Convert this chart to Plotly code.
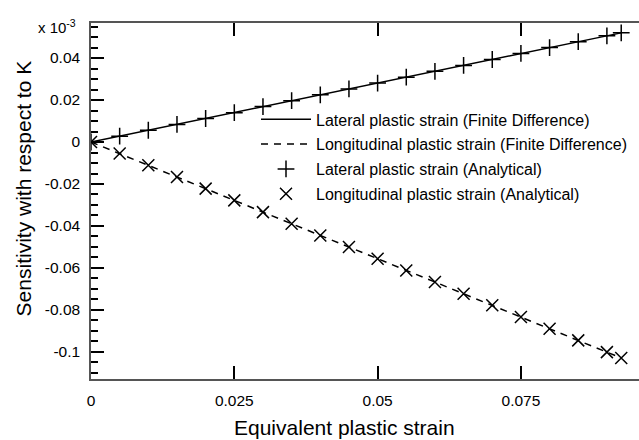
import plotly.graph_objects as go

strain = [0, 0.005, 0.01, 0.015, 0.02, 0.025, 0.03, 0.035, 0.04, 0.045,
          0.05, 0.055, 0.06, 0.065, 0.07, 0.075, 0.08, 0.085, 0.09, 0.0925]
lateral = [0, 0.0028, 0.0056, 0.0084, 0.0112, 0.0140, 0.0169, 0.0197, 0.0225, 0.0253,
           0.0281, 0.0309, 0.0337, 0.0365, 0.0393, 0.0422, 0.0450, 0.0478, 0.0506, 0.0520]
longitudinal = [0, -0.0055, -0.0111, -0.0167, -0.0222, -0.0278, -0.0334, -0.0389, -0.0445, -0.0500,
                -0.0556, -0.0612, -0.0667, -0.0723, -0.0778, -0.0834, -0.0890, -0.0945, -0.1001, -0.1029]

xtick_vals = [0, 0.025, 0.05, 0.075]
xtick_text = ["0", "0.025", "0.05", "0.075"]
ytick_vals = [0.04, 0.02, 0, -0.02, -0.04, -0.06, -0.08, -0.1]
ytick_text = ["0.04", "0.02", "0", "-0.02", "-0.04", "-0.06", "-0.08", "-0.1"]

names = ["Lateral plastic strain (Finite Difference)",
         "Longitudinal plastic strain (Finite Difference)",
         "Lateral plastic strain (Analytical)",
         "Longitudinal plastic strain (Analytical)"]

FONT = "Liberation Sans, Arial, Helvetica, sans-serif"

fig = go.Figure()
fig.add_trace(go.Scatter(x=strain, y=lateral, mode="lines", name=names[0], legendgroup="a",
                         line=dict(color="black", width=1.5)))
fig.add_trace(go.Scatter(x=strain, y=longitudinal, mode="lines", name=names[1], legendgroup="b",
                         line=dict(color="black", width=1.5, dash="7px,6px")))
fig.add_trace(go.Scatter(x=strain, y=lateral, mode="markers", name=names[2], legendgroup="c",
                         marker=dict(symbol="cross-thin", size=12, color="black",
                                     line=dict(color="black", width=1.5))))
fig.add_trace(go.Scatter(x=strain, y=longitudinal, mode="markers", name=names[3], legendgroup="d",
                         marker=dict(symbol="x-thin", size=12, color="black",
                                     line=dict(color="black", width=1.5))))

fig.update_layout(
    width=639, height=440,
    margin=dict(l=91, r=0, t=23, b=61),
    paper_bgcolor="white", plot_bgcolor="white",
    font=dict(family=FONT, size=15.5, color="black"),
    showlegend=True,
    legend=dict(x=(256 - 91) / 548, y=0.777, xanchor="left", yanchor="top", bgcolor="rgba(0,0,0,0)",
                font=dict(size=16), tracegroupgap=1, itemwidth=50),
    xaxis=dict(range=[0, 0.0956], tickmode="array", tickvals=xtick_vals, ticktext=xtick_text,
               ticks="inside", ticklen=13, tickwidth=1.5, tickcolor="black",
               showline=True, linecolor="#555", linewidth=1.5, mirror="ticks",
               showgrid=False, zeroline=False, tickfont=dict(size=15.5),
               ticklabelstandoff=7),
    yaxis=dict(range=[-0.1129, 0.0567], tickmode="array", tickvals=ytick_vals, ticktext=ytick_text,
               ticks="inside", ticklen=13, tickwidth=1.5, tickcolor="black",
               minor=dict(dtick=0.005, tick0=0, ticks="inside", ticklen=7, tickwidth=1.5,
                          tickcolor="black", showgrid=False),
               showline=True, linecolor="#555", linewidth=1.5,
               showgrid=False, zeroline=False, tickfont=dict(size=15.5),
               ticklabelstandoff=6),
    annotations=[
        dict(text="x 10<sup>-3</sup>", xref="paper", yref="paper", x=-0.024, y=0.99,
             xanchor="right", yanchor="middle", showarrow=False, font=dict(size=15)),
        dict(text="Equivalent plastic strain", xref="paper", yref="paper",
             x=(344 - 91) / 548, y=-0.135, xanchor="center", yanchor="middle",
             showarrow=False, font=dict(size=21)),
        dict(text="Sensitivity with respect to K", xref="paper", yref="paper",
             x=(23.5 - 91) / 548, y=0.534, xanchor="center", yanchor="middle", textangle=-90,
             showarrow=False, font=dict(size=21)),
    ],
)

fig.write_html("out.html")
